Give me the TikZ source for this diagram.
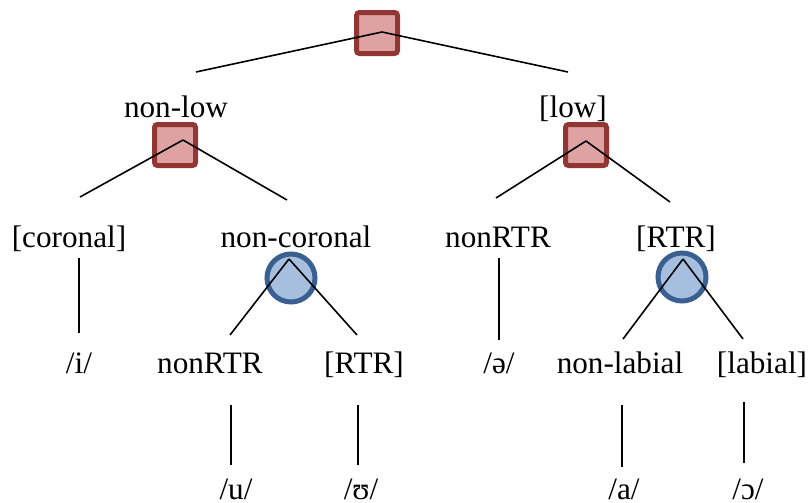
\documentclass[tikz,border=0pt]{standalone}
\usepackage{fontspec}
\setmainfont{Liberation Serif}
\newfontfamily\timesfont{Liberation Serif}
\usepackage{tikz}
\usetikzlibrary{arrows}
\definecolor{boxfill}{RGB}{222,162,162}
\definecolor{boxline}{RGB}{146,54,52}
\definecolor{dotfill}{RGB}{167,191,222}
\definecolor{dotline}{RGB}{58,96,145}
\begin{document}
\begin{tikzpicture}[x=0.5pt,y=-0.5pt]
\tikzset{feat/.style = {anchor=base,inner sep=0pt,font=\timesfont\fontsize{15.6}{18}\selectfont}}
\tikzset{sq/.style = {shape=rectangle,draw=boxline,fill=boxfill,line width=2.5pt,minimum size=20.5pt,rounded corners=1.5pt,inner sep=0pt}}
\tikzset{dot/.style = {shape=circle,draw=dotline,fill=dotfill,line width=2.5pt,minimum size=24pt,inner sep=0pt}}
\tikzset{edge/.style = {line width=0.8pt}}
\useasboundingbox (0,0) rectangle (810,503);
% vertices
\node[sq] (root) at (377,33) {};
\node[feat] (nonlow) at (176,117) {non-low};
\node[feat] (low) at (573,117) {[low]};
\node[sq] (sqL) at (175,145) {};
\node[sq] (sqR) at (586,145) {};
\node[feat] (coronal) at (69,247) {[coronal]};
\node[feat] (noncor) at (296,247) {non-coronal};
\node[feat] (nonrtrA) at (498,247) {nonRTR};
\node[feat] (rtrA) at (676,247) {[RTR]};
\node[dot] (dotL) at (291,278) {};
\node[dot] (dotR) at (682,277) {};
\node[feat] (i) at (79,373) {/i/};
\node[feat] (nonrtrB) at (210,373) {nonRTR};
\node[feat] (rtrB) at (364,373) {[RTR]};
\node[feat] (schwa) at (499,373) {/ə/};
\node[feat] (nonlab) at (620,373) {non-labial};
\node[feat] (lab) at (762,373) {[labial]};
\node[feat] (u) at (236,499) {/u/};
\node[feat] (upsilon) at (361,499) {/ʊ/};
\node[feat] (a) at (624,499) {/a/};
\node[feat] (openo) at (748,499) {/ɔ/};
% apexes and line ends
\coordinate (rootTop) at (382,32);
\coordinate (sqLTop) at (183,140);
\coordinate (sqRTop) at (586,141);
\coordinate (dotLTop) at (289,259);
\coordinate (dotRTop) at (683,259);
\coordinate (e1) at (196,72);
\coordinate (e2) at (568,72);
\coordinate (e3) at (80,197);
\coordinate (e4) at (287,200);
\coordinate (e5) at (496,198);
\coordinate (e6) at (670,202);
\coordinate (e7) at (230,335);
\coordinate (e8) at (357,335);
\coordinate (e9) at (623,339);
\coordinate (e10) at (743,339);
\coordinate (v1a) at (79,258);
\coordinate (v1b) at (79,333);
\coordinate (v2a) at (499,258);
\coordinate (v2b) at (499,340);
\coordinate (v3a) at (231,405);
\coordinate (v3b) at (231,465);
\coordinate (v4a) at (358,405);
\coordinate (v4b) at (358,465);
\coordinate (v5a) at (622,405);
\coordinate (v5b) at (622,467);
\coordinate (v6a) at (744,402);
\coordinate (v6b) at (744,463);
%edges
\draw[edge] (rootTop) -- (e1);
\draw[edge] (rootTop) -- (e2);
\draw[edge] (sqLTop) -- (e3);
\draw[edge] (sqLTop) -- (e4);
\draw[edge] (sqRTop) -- (e5);
\draw[edge] (sqRTop) -- (e6);
\draw[edge] (dotLTop) -- (e7);
\draw[edge] (dotLTop) -- (e8);
\draw[edge] (dotRTop) -- (e9);
\draw[edge] (dotRTop) -- (e10);
\draw[edge] (v1a) -- (v1b);
\draw[edge] (v2a) -- (v2b);
\draw[edge] (v3a) -- (v3b);
\draw[edge] (v4a) -- (v4b);
\draw[edge] (v5a) -- (v5b);
\draw[edge] (v6a) -- (v6b);
\end{tikzpicture}
\end{document}
